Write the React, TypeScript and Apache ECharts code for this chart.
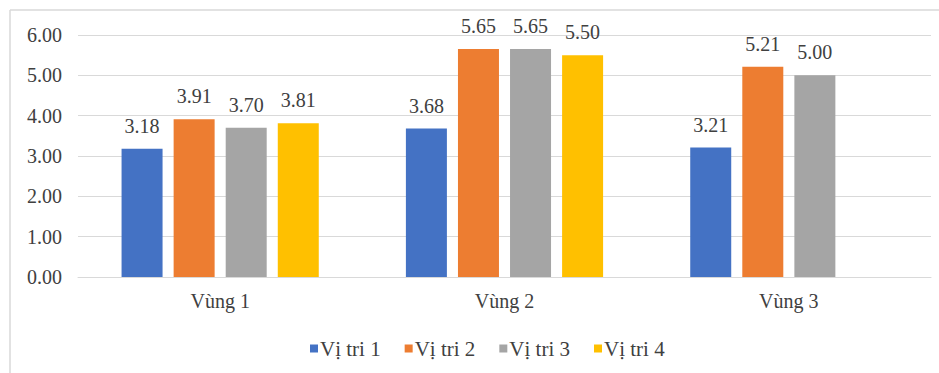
import React, { useEffect, useRef } from "react";
import * as echarts from "echarts";

const categories = ["Vùng 1", "Vùng 2", "Vùng 3"];
const seriesNames = ["Vị tri 1", "Vị tri 2", "Vị tri 3", "Vị tri 4"];
const viTri1 = [3.18, 3.68, 3.21];
const viTri2 = [3.91, 5.65, 5.21];
const viTri3 = [3.7, 5.65, 5.0];
const viTri4: (number | null)[] = [3.81, 5.5, null];
const colors = ["#4472C4", "#ED7D31", "#A5A5A5", "#FFC000"];

const FONT = "'Liberation Serif', 'Times New Roman', serif";
const TEXT = "#404040";

export default function App() {
  const ref = useRef<HTMLDivElement>(null);
  useEffect(() => {
    if (!ref.current) return;
    const chart = echarts.init(ref.current, null, { renderer: "svg" });
    const data = [viTri1, viTri2, viTri3, viTri4];
    chart.setOption({
      animation: false,
      backgroundColor: "#ffffff",
      textStyle: { fontFamily: FONT },
      grid: { left: 78, right: 8, top: 35, bottom: 96, containLabel: false },
      graphic: [
        {
          type: "line",
          shape: { x1: 10, y1: 10, x2: 10, y2: 373 },
          style: { stroke: "#d9d9d9", lineWidth: 1.5 },
        },
        {
          type: "line",
          shape: { x1: 10, y1: 10, x2: 939, y2: 10 },
          style: { stroke: "#d9d9d9", lineWidth: 1.5 },
        },
      ],
      legend: {
        data: seriesNames,
        top: 333,
        left: 305,
        itemWidth: 8,
        itemHeight: 8,
        itemGap: 24,
        icon: "rect",
        textStyle: { fontFamily: FONT, fontSize: 21, color: TEXT, padding: [0, 0, 0, -3] },
      },
      xAxis: {
        type: "category",
        data: categories,
        axisLine: { lineStyle: { color: "#d9d9d9" } },
        axisTick: { show: false },
        axisLabel: { fontFamily: FONT, fontSize: 20, color: TEXT, margin: 14 },
      },
      yAxis: {
        type: "value",
        min: 0,
        max: 6,
        interval: 1,
        axisLine: { show: false },
        axisTick: { show: false },
        splitLine: { lineStyle: { color: "#d9d9d9", width: 1.2 } },
        axisLabel: {
          fontFamily: FONT,
          fontSize: 20,
          color: TEXT,
          margin: 16,
          formatter: (v: number) => v.toFixed(2),
        },
      },
      series: seriesNames.map((name, i) => ({
        name,
        type: "bar",
        data: data[i],
        barWidth: 41,
        barGap: "27%",
        itemStyle: { color: colors[i] },
        label: {
          show: true,
          position: "top",
          distance: 13,
          fontFamily: FONT,
          fontSize: 20,
          color: TEXT,
          formatter: (p: any) => (p.value == null ? "" : Number(p.value).toFixed(2)),
        },
      })),
    });
    return () => chart.dispose();
  }, []);
  return (
    <div
      ref={ref}
      style={{ position: "absolute", left: 0, top: 0, width: 939, height: 373 }}
    />
  );
}
